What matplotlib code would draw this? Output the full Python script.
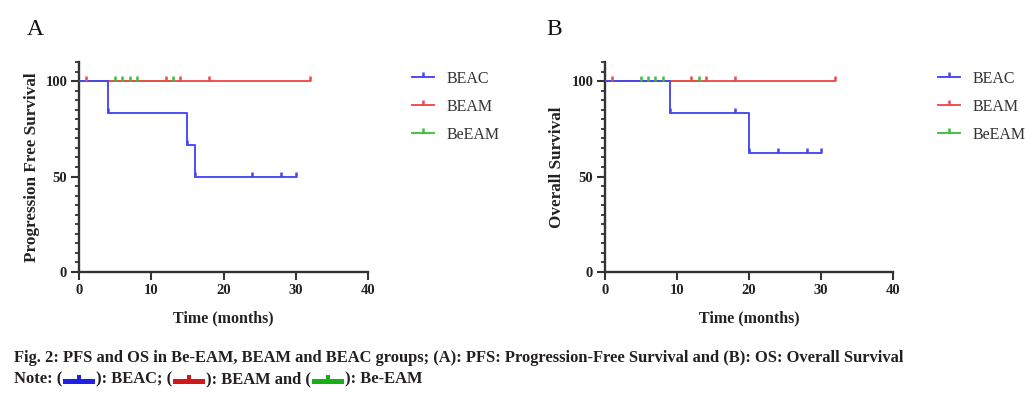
import numpy as np
import matplotlib
matplotlib.use("Agg")
import matplotlib.pyplot as plt
from matplotlib.path import Path
from matplotlib.patches import Rectangle

# ---------------- data ----------------
groups = ["BEAC", "BEAM", "BeEAM"]
colors = {"BEAC": "#4646f5", "BEAM": "#ef4a4a", "BeEAM": "#3cc03c"}

# Panel A: progression free survival (step curves)
pfs_beac_t = [0, 4, 15, 16, 30]
pfs_beac_s = [100, 83.3, 66.7, 50, 50]
pfs_beac_marks = [4, 15, 16, 24, 28, 30]
pfs_beam_t = [0, 32]
pfs_beam_s = [100, 100]
pfs_beam_marks = [1, 12, 14, 18, 32]
pfs_beeam_t = [0, 13]
pfs_beeam_s = [100, 100]
pfs_beeam_marks = [5, 6, 7, 8, 13]

# Panel B: overall survival
os_beac_t = [0, 9, 20, 30]
os_beac_s = [100, 83.3, 62.5, 62.5]
os_beac_marks = [9, 18, 20, 24, 28, 30]
os_beam_t = [0, 32]
os_beam_s = [100, 100]
os_beam_marks = [1, 12, 14, 18, 32]
os_beeam_t = [0, 13]
os_beeam_s = [100, 100]
os_beeam_marks = [5, 6, 7, 8, 13]

x_ticks = [0, 10, 20, 30, 40]
y_ticks = [0, 50, 100]

panel_letters = ["A", "B"]
y_labels = ["Progression Free Survival", "Overall Survival"]
x_label = "Time (months)"
caption1 = ("Fig. 2: PFS and OS in Be-EAM, BEAM and BEAC groups; (A): PFS: "
            "Progression-Free Survival and (B): OS: Overall Survival")
caption_parts = ["Note: (", "): BEAC; (", "): BEAM and (", "): Be-EAM"]
caption_colors = ["#1f1fe6", "#d01818", "#16b016"]

# ---------------- style ----------------
W, H = 1025, 398
fig = plt.figure(figsize=(W / 100, H / 100), dpi=100)
plt.rcParams["font.family"] = ["Liberation Serif", "DejaVu Serif"]
SPINE = "#333333"
tick_marker = Path([(0, 0), (0, 1)], [Path.MOVETO, Path.LINETO])


def px_axes(left, right, top, bottom):
    return [left / W, (H - bottom) / H, (right - left) / W, (bottom - top) / H]


def step_value(t, s, x):
    i = np.searchsorted(np.asarray(t), x, side="right") - 1
    return np.asarray(s)[i]


panels = [
    dict(rect=px_axes(79, 368, 62, 272), letter_x=27, ylab_x=-0.163,
         leg_x=412,
         curves=[("BeEAM", pfs_beeam_t, pfs_beeam_s, pfs_beeam_marks),
                 ("BEAM", pfs_beam_t, pfs_beam_s, pfs_beam_marks),
                 ("BEAC", pfs_beac_t, pfs_beac_s, pfs_beac_marks)]),
    dict(rect=px_axes(605, 893, 62, 272), letter_x=546, ylab_x=-0.167,
         leg_x=938,
         curves=[("BeEAM", os_beeam_t, os_beeam_s, os_beeam_marks),
                 ("BEAM", os_beam_t, os_beam_s, os_beam_marks),
                 ("BEAC", os_beac_t, os_beac_s, os_beac_marks)]),
]

for k, p in enumerate(panels):
    ax = fig.add_axes(p["rect"])
    handles = {}
    for name, t, s, marks in p["curves"]:
        ax.step(t, s, where="post", color=colors[name], lw=1.35, zorder=3)
        my = [step_value(t, s, m) for m in marks]
        ax.plot(marks, my, ls="none", marker=tick_marker, ms=7, mew=1.8,
                color=colors[name], zorder=4)
        h, = ax.plot([], [], color=colors[name], lw=1.35, marker=tick_marker,
                     ms=7, mew=1.8)
        handles[name] = h
    ax.set_xlim(0, 40)
    ax.set_ylim(0, 110)
    ax.set_xticks(x_ticks)
    ax.set_yticks(y_ticks)
    ax.set_yticks(np.arange(0, 111, 5), minor=True)
    for side in ["top", "right"]:
        ax.spines[side].set_visible(False)
    for side in ["left", "bottom"]:
        ax.spines[side].set_linewidth(1.7)
        ax.spines[side].set_color(SPINE)
    ax.tick_params(axis="both", which="major", length=5.5, width=1.5,
                   color=SPINE, labelsize=10.5, pad=3, labelcolor="#222222")
    ax.tick_params(axis="y", which="minor", length=3.2, width=1.3, color=SPINE)
    ax.tick_params(axis="x", which="minor", length=0)
    for lab in ax.get_xticklabels() + ax.get_yticklabels():
        lab.set_fontweight("bold")
    ax.set_xlabel(x_label, fontsize=11.5, fontweight="bold", va="center",
                  color="#222222")
    ax.xaxis.set_label_coords(0.5, -0.219)
    ax.set_ylabel(y_labels[k], fontsize=12.3, fontweight="bold", va="center",
                  color="#222222")
    ax.yaxis.set_label_coords(p["ylab_x"], 0.5)
    fig.text(p["letter_x"] / W, (H - 35) / H, panel_letters[k], fontsize=17,
             va="baseline", ha="left", color="#111111")
    ax.legend([handles[g] for g in groups], groups, loc="upper left",
              bbox_to_anchor=(p["leg_x"] / W, (H - 71) / H),
              bbox_transform=fig.transFigure, frameon=False, fontsize=11.5,
              handlelength=1.35, handletextpad=0.8, labelspacing=0.75,
              borderpad=0, borderaxespad=0, labelcolor="#333333")

# ---------------- caption ----------------
cap_kw = dict(fontsize=11.9, fontweight="bold", color="#231f20", va="baseline",
              ha="left")
fig.text(14 / W, (H - 362.5) / H, caption1, **cap_kw)

fig.canvas.draw()
renderer = fig.canvas.get_renderer()
x = 14.0
yb = 383.5
for i, part in enumerate(caption_parts):
    t = fig.text(x / W, (H - yb) / H, part, **cap_kw)
    bb = t.get_window_extent(renderer=renderer)
    x = bb.x1
    if i < len(caption_colors):
        c = caption_colors[i]
        bw, bh = 32, 5
        fig.patches.append(Rectangle(((x + 1) / W, (H - yb - 0.5) / H), bw / W,
                                     bh / H, transform=fig.transFigure,
                                     color=c, lw=0))
        fig.patches.append(Rectangle(((x + 1 + bw / 2 - 2) / W,
                                      (H - yb - 0.5 + bh) / H), 4 / W, 4 / H,
                                     transform=fig.transFigure, color=c, lw=0))
        x = x + bw + 2

fig.savefig("out.png", dpi=100)
